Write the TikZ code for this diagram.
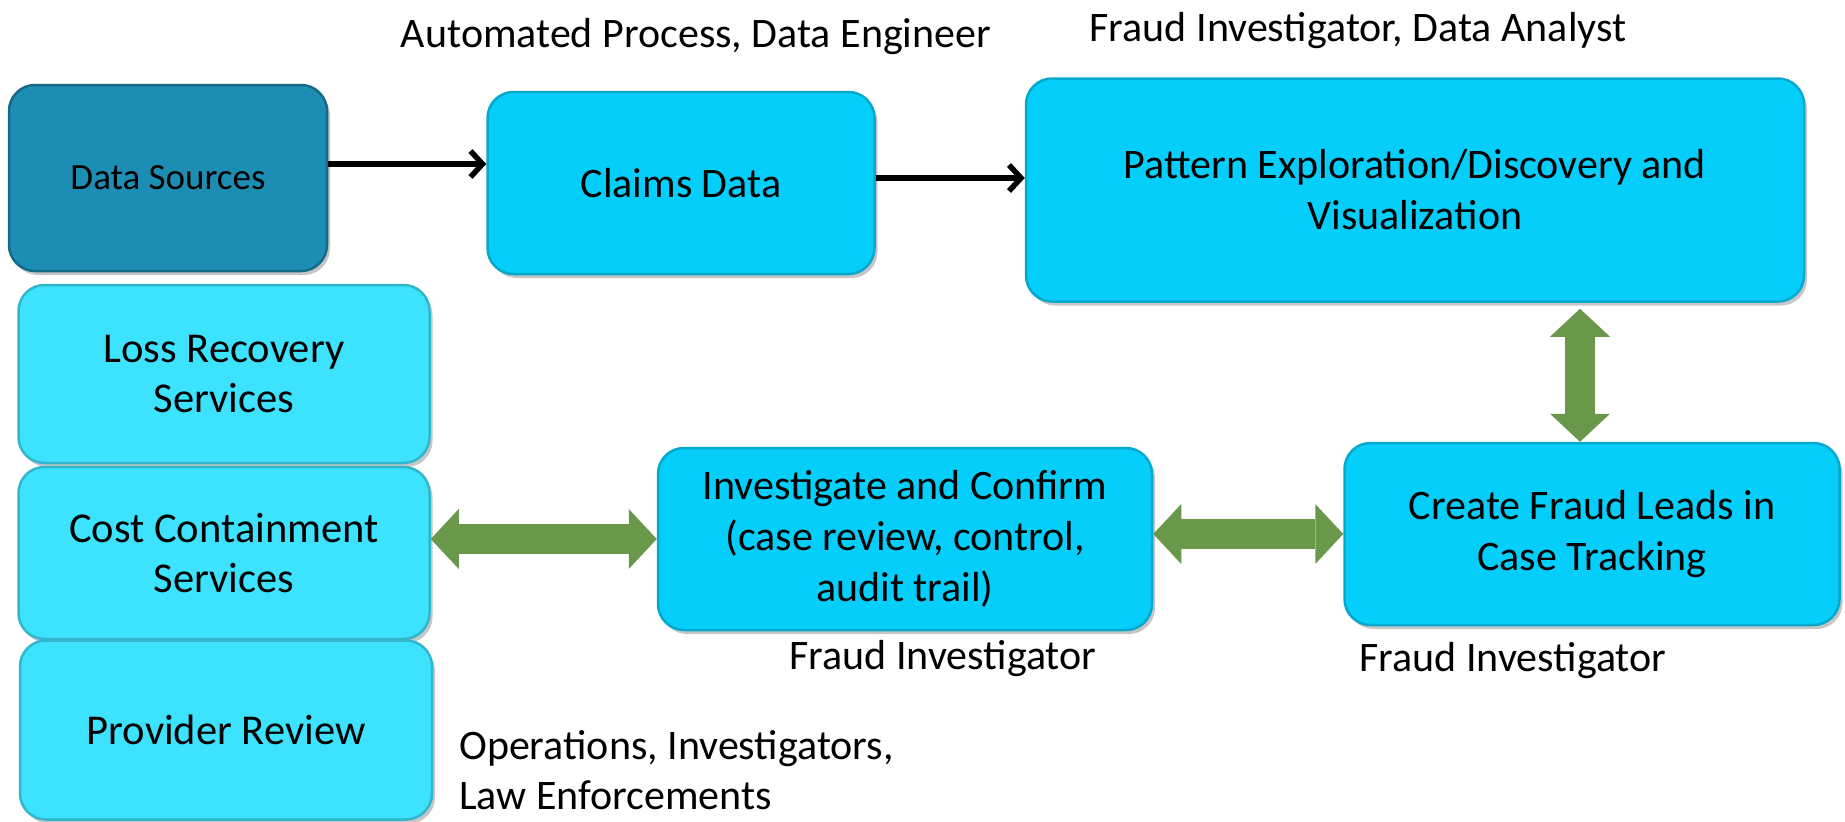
\documentclass[tikz,border=0pt]{standalone}
\usepackage{fontspec}
\setmainfont{Carlito}
\usepackage{tikz}
\usetikzlibrary{arrows.meta,shadows}
\definecolor{boxcyan}{HTML}{05CEFA}
\definecolor{boxlight}{HTML}{3DE3FE}
\definecolor{boxdark}{HTML}{1C8EB3}
\definecolor{olive}{HTML}{6A984A}
\tikzset{
  box/.style={rounded corners=26pt, fill=boxcyan, draw=boxcyan!82!black, line width=2.5pt,
    align=center, inner sep=0pt, font=\fontsize{42}{51}\selectfont,
    drop shadow={shadow xshift=3pt, shadow yshift=-4pt, opacity=0.45}},
  lbox/.style={box, fill=boxlight, draw=boxlight!80!black, font=\fontsize{42.5}{50}\selectfont},
  dbox/.style={box, fill=boxdark, draw=boxdark!75!black, font=\fontsize{37}{45}\selectfont},
  flow/.style={draw=black, line width=5.5pt, -{Straight Barb[length=12pt,width=26pt]}},
  twoway/.style={draw=olive, line width=30pt,
    {Triangle[length=28pt,width=60pt,line width=0pt]}-{Triangle[length=28pt,width=60pt,line width=0pt]}},
  lbl/.style={text=black, inner sep=0pt, font=\fontsize{42}{50}\selectfont}
}
\begin{document}
\begin{tikzpicture}[x=1pt, y=-1pt]
  \useasboundingbox (0,0) rectangle (1845,822);

  \node[dbox, minimum width=318pt, minimum height=186pt] (DS) at (168,178) {Data Sources};
  \node[box, minimum width=387pt, minimum height=182pt] (CD) at (681,183) {Claims Data};
  \node[box, minimum width=778pt, minimum height=223pt] (PE) at (1415,190)
    {Pattern Exploration/Discovery and\\Visualization};
  \node[box, minimum width=495pt, minimum height=182pt] (CF) at (1592,534)
    {Create Fraud Leads in\\Case Tracking};
  \node[box, minimum width=494pt, minimum height=182pt] (IC) at (905,539)
    {Investigate and Confirm\\(case review, control,\\audit trail)};
  \node[lbox, minimum width=411pt, minimum height=178pt] (LR) at (224,374) {Loss Recovery\\Services};
  \node[lbox, minimum width=411pt, minimum height=172pt] (CC) at (224,553) {Cost Containment\\Services};
  \node[lbox, minimum width=412pt, minimum height=179pt] (PR) at (226,730) {Provider Review};

  \coordinate (a1) at ([yshift=14pt]DS.east);
  \coordinate (a2) at ([yshift=5pt]CD.east);
  \draw[flow] (a1) -- (a1 -| CD.west);
  \draw[flow] (a2) -- (a2 -| PE.west);

  \coordinate (v1) at ([xshift=-12pt]CF.north);
  \draw[twoway] ([yshift=-6pt]v1 |- PE.south) -- (v1);
  \draw[twoway] (CF.west -| IC.east) -- (CF.west);
  \draw[twoway] (IC.west -| CC.east) -- (IC.west);

  \node[lbl, anchor=base] (t1) at (696,47) {Automated Process, Data Engineer};
  \node[lbl, anchor=base] (t2) at (1358,41) {Fraud Investigator, Data Analyst};
  \node[lbl, anchor=base] (t3) at (943,669) {Fraud Investigator};
  \node[lbl, anchor=base] (t4) at (1513,671) {Fraud Investigator};
  \node[lbl, anchor=west, align=left] (t5) at (459,770) {Operations, Investigators,\\Law Enforcements};
\end{tikzpicture}
\end{document}
